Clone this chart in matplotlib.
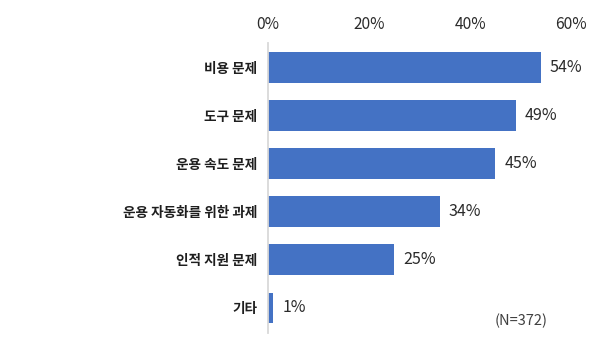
import matplotlib
matplotlib.use("Agg")
import matplotlib.pyplot as plt
from matplotlib.ticker import FuncFormatter

plt.rcParams['font.family'] = ['Noto Sans CJK KR', 'DejaVu Sans']

categories = ["비용 문제", "도구 문제", "운용 속도 문제", "운용 자동화를 위한 과제", "인적 지원 문제", "기타"]
values = [54, 49, 45, 34, 25, 1]
x_ticks = [0, 20, 40, 60]
note = "(N=372)"

bar_color = "#4472C4"

fig = plt.figure(figsize=(6.0, 3.59), dpi=100)
ax = fig.add_axes([0.447, 0.0724, 0.952 - 0.447, 0.881 - 0.0724])

y = list(range(len(categories)))
ax.barh(y, values, height=0.64, color=bar_color)

ax.set_xlim(0, 60)
ax.set_ylim(len(categories) - 0.48, -0.51)

ax.xaxis.tick_top()
ax.set_xticks(x_ticks)
ax.xaxis.set_major_formatter(FuncFormatter(lambda v, p: f"{v:.0f}%"))
ax.tick_params(axis='x', length=0, pad=7, labelsize=11.2, labelcolor="#2b2b2b")

ax.set_yticks(y)
ax.set_yticklabels(categories, fontsize=9.8, fontweight='bold', color="#1e1e1e")
ax.tick_params(axis='y', length=0, pad=8)

for side in ['top', 'right', 'bottom']:
    ax.spines[side].set_visible(False)
ax.spines['left'].set_color("#d9d9d9")
ax.spines['left'].set_linewidth(1.3)

for yi, v in zip(y, values):
    ax.annotate(f"{v}%", xy=(v, yi), xytext=(6.5, 0), textcoords='offset points',
                va='center', ha='left', fontsize=11.5, color="#2b2b2b")

fig.text(548 / 600, 1 - 321 / 359, note, ha='right', va='center', fontsize=10.5, color="#404040")

fig.savefig("out.png", dpi=100)
